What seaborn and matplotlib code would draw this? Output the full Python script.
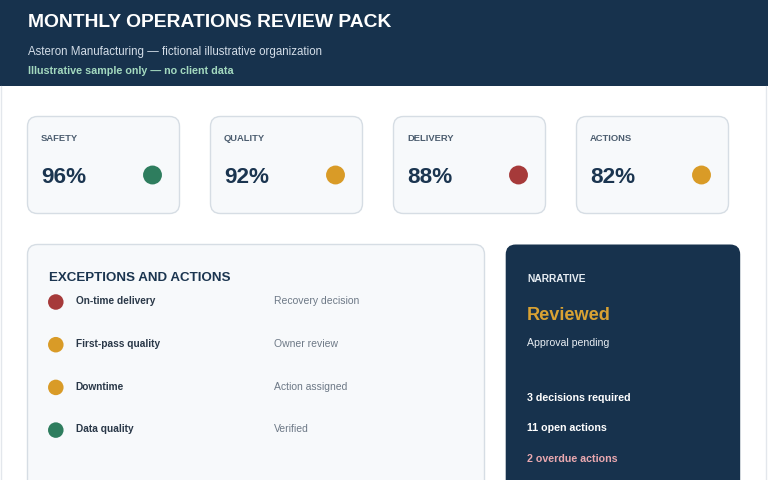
import matplotlib
matplotlib.use("Agg")
import matplotlib.pyplot as plt
from matplotlib.patches import FancyBboxPatch, Rectangle
import seaborn as sns
import pandas as pd

# ---------------- data ----------------
title = "MONTHLY OPERATIONS REVIEW PACK"
subtitle = "Asteron Manufacturing \u2014 fictional illustrative organization"
disclaimer = "Illustrative sample only \u2014 no client data"

kpi_labels = ["SAFETY", "QUALITY", "DELIVERY", "ACTIONS"]
kpi_values = [96, 92, 88, 82]
kpi_status = ["green", "amber", "red", "amber"]

exc_title = "EXCEPTIONS AND ACTIONS"
exc_items = ["On-time delivery", "First-pass quality", "Downtime", "Data quality"]
exc_actions = ["Recovery decision", "Owner review", "Action assigned", "Verified"]
exc_status = ["red", "amber", "amber", "green"]

narr_title = "NARRATIVE"
narr_state = "Reviewed"
narr_note = "Approval pending"
narr_lines = ["3 decisions required", "11 open actions", "2 overdue actions"]

status_colors = {"green": "#2e7d5e", "amber": "#d99b27", "red": "#a63a3a"}

# ---------------- style ----------------
sns.set_theme(style="white")
plt.rcParams["font.family"] = ["Liberation Sans", "DejaVu Sans"]

NAVY = "#17324d"
TEXT = "#1b3550"
CARD_BG = "#f7f9fb"
CARD_EDGE = "#d6dde4"

fig = plt.figure(figsize=(7.68, 4.8), dpi=100)
fig.patch.set_facecolor("white")
ax = fig.add_axes([0, 0, 1, 1])
ax.set_xlim(0, 768)
ax.set_ylim(480, 0)
ax.axis("off")

# header
ax.add_patch(Rectangle((0, 0), 768, 86, facecolor=NAVY, edgecolor="none", zorder=1))
ax.text(28, 26.7, title, fontsize=13.9, fontweight="bold", color="white", va="baseline", zorder=3)
ax.text(28, 54.5, subtitle, fontsize=8.3, color="#d3dde8", va="baseline", zorder=3)
ax.text(28, 74, disclaimer, fontsize=7.75, fontweight="bold", color="#a3d9bf", va="baseline", zorder=3)

# faint page borders
ax.plot([1, 1], [86, 480], color="#e3e7ec", lw=1, zorder=1)
ax.plot([766, 766], [86, 480], color="#e3e7ec", lw=1, zorder=1)

# KPI cards
card_w, card_h, card_gap = 152, 97, 31
card_x0, card_y0 = 27.5, 116.5
dot_x, dot_y = [], []
for i, (lab, val) in enumerate(zip(kpi_labels, kpi_values)):
    x = card_x0 + i * (card_w + card_gap)
    ax.add_patch(FancyBboxPatch((x, card_y0), card_w, card_h,
                                boxstyle="round,pad=0,rounding_size=10",
                                facecolor=CARD_BG, edgecolor=CARD_EDGE, lw=1, zorder=2))
    ax.text(x + 13.5, 141, lab, fontsize=6.75, fontweight="bold", color="#4c5d6f",
            va="baseline", zorder=3)
    ax.text(x + 13.5, 183.3, f"{val}%", fontsize=16.2, fontweight="bold", color=TEXT,
            va="baseline", zorder=3)
    dot_x.append(x + 125)
    dot_y.append(175)

kpi_df = pd.DataFrame({"x": dot_x, "y": dot_y, "status": kpi_status})
sns.scatterplot(data=kpi_df, x="x", y="y", hue="status", palette=status_colors,
                s=185, linewidth=0, legend=False, ax=ax, zorder=4)

# exceptions panel
ax.add_patch(FancyBboxPatch((27.5, 244.5), 457, 260,
                            boxstyle="round,pad=0,rounding_size=10",
                            facecolor=CARD_BG, edgecolor=CARD_EDGE, lw=1, zorder=2))
ax.text(48.7, 281.3, exc_title, fontsize=9.6, fontweight="bold", color=TEXT,
        va="baseline", zorder=3)
row_dy = 42.7
ex_x, ex_y = [], []
for i, (item, act) in enumerate(zip(exc_items, exc_actions)):
    base = 304.3 + i * row_dy
    ax.text(75.7, base, item, fontsize=7.3, fontweight="bold", color="#2a3848",
            va="baseline", zorder=3)
    ax.text(274, base, act, fontsize=7.5, color="#6d7986", va="baseline", zorder=3)
    ex_x.append(55.8)
    ex_y.append(302 + i * row_dy)

exc_df = pd.DataFrame({"x": ex_x, "y": ex_y, "status": exc_status})
sns.scatterplot(data=exc_df, x="x", y="y", hue="status", palette=status_colors,
                s=125, linewidth=0, legend=False, ax=ax, zorder=4)

# narrative panel
ax.add_patch(FancyBboxPatch((505.7, 244.5), 234.5, 260,
                            boxstyle="round,pad=0,rounding_size=10",
                            facecolor=NAVY, edgecolor="none", zorder=2))
ax.text(527, 281.7, narr_title, fontsize=7.4, fontweight="bold", color="#e6ecf2",
        va="baseline", zorder=3)
ax.text(527, 320, narr_state, fontsize=13.1, fontweight="bold", color="#d9a233",
        va="baseline", zorder=3)
ax.text(527, 346, narr_note, fontsize=7.6, color="#e9eef3",
        va="baseline", zorder=3)
line_colors = ["white", "white", "#eba9b0"]
for i, (ln, c) in enumerate(zip(narr_lines, line_colors)):
    ax.text(527, 400.7 + i * 30.5, ln, fontsize=7.7, fontweight="bold", color=c,
            va="baseline", zorder=3)

fig.savefig("out.png", dpi=100, facecolor="white")
